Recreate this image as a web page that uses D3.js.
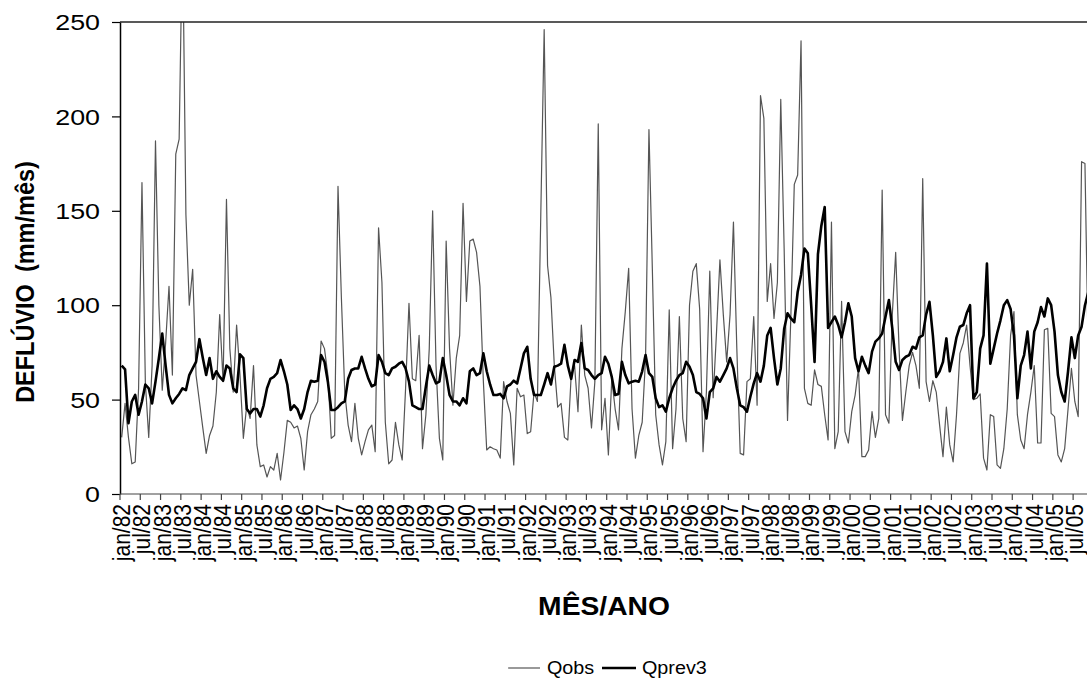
<!DOCTYPE html>
<html>
<head>
<meta charset="utf-8">
<script src="https://cdn.jsdelivr.net/npm/d3@7/dist/d3.min.js"></script>
<style>
  html, body { margin: 0; padding: 0; background: #fff; }
  svg { display: block; }
  text { font-family: "Liberation Sans", Arial, sans-serif; fill: #000; }
</style>
</head>
<body>
<svg id="chart" width="1087" height="681"></svg>
<script>
// Monthly runoff, jan/1982 onwards (mm/mês)
const startYear = 1982;
const monthNames = ["jan","fev","mar","abr","mai","jun","jul","ago","set","out","nov","dez"];

const qobs = [
  30, 48, 30, 16, 17, 56, 165, 59, 30, 68,
  187, 100, 55, 80, 110, 63, 180, 188, 300, 148,
  100, 119, 63, 49, 35, 21.5, 31, 36, 54, 95,
  59.5, 156, 77, 54, 89.5, 63, 29.5, 47, 40, 68,
  26, 14.5, 15.4, 9, 14.5, 12.7, 21.5, 7.4, 22, 39,
  38, 35, 36, 29.5, 12.7, 33, 42, 45, 49, 81,
  77, 63, 29.5, 31, 163, 104, 54, 36.5, 27.7, 48,
  29.5, 20.7, 27.7, 34, 36.5, 22.4, 141, 112, 38, 16,
  18, 38, 26, 18, 56, 101, 61, 60, 84, 24,
  42, 77, 150, 68, 29.5, 18, 134, 77, 47, 72,
  84, 154, 102, 134, 135, 128, 110, 60, 23.3, 25,
  24, 23.3, 19, 59.5, 49, 42.7, 15.4, 56, 51.5, 52.4,
  32, 33, 54, 49, 148, 246, 121, 104, 68, 46,
  48, 30, 28.6, 63, 68, 43.6, 89.5, 63, 56, 35,
  59.5, 196, 34, 50.7, 20.7, 61, 45, 34, 77, 96.6,
  119.5, 45, 19, 31, 38, 72, 193, 119.5, 42, 26,
  15.4, 27.7, 97.5, 24, 45, 94, 40, 27.7, 100, 118,
  122, 98, 22.4, 54, 118, 51, 86, 124, 95, 70,
  95, 144, 77, 21.5, 20.7, 59.5, 61, 94, 47, 211,
  199, 102, 122, 93, 112, 209, 130, 39, 95, 164,
  169, 240, 56, 48, 47, 65.7, 58, 57, 42, 28.6,
  144, 24, 33, 102, 33, 27, 43.6, 52.4, 66.5, 19.8,
  19.8, 23.3, 43.6, 30, 40, 161, 42, 37.5, 95, 128,
  77, 39, 54, 68, 75, 68, 56, 167, 59.5, 49,
  60, 54, 36.5, 19.8, 46, 26, 17, 42, 74.5, 80,
  89.5, 68, 50, 50.7, 53, 19, 12.7, 42, 41, 15.4,
  13.6, 24, 45, 84, 96.6, 42, 28.6, 24, 42, 54,
  68, 27, 27, 87, 87.7, 42.7, 41, 20.7, 17, 24,
  45, 66.5, 49, 41, 176, 175, 70, 60
];

const qprev3 = [
  68, 66, 37.5, 49, 52.5, 42, 49, 58, 56, 48,
  59.5, 72, 85, 68, 52.5, 48, 50.7, 53, 56, 55,
  63, 66.5, 70, 82, 72, 63, 72, 61, 65, 62,
  60, 68, 66.5, 56, 54, 74, 72, 45, 42.7, 45,
  45, 41, 47, 56, 61, 62, 64, 71, 65, 58,
  44.5, 47, 45, 40, 45, 54, 60, 59.5, 60, 73.6,
  70, 59.5, 44.5, 44.5, 46, 48, 49, 61, 65.7, 66.5,
  66.5, 72.7, 66.5, 61, 57, 58, 73.6, 70, 64, 63,
  66.5, 67.4, 69, 70, 66.5, 59.5, 47, 46, 45, 45,
  57, 68, 63, 58.6, 59.5, 72, 63, 52.5, 49, 49,
  47, 50.7, 48, 65, 66.5, 63, 64, 74.5, 65, 58,
  52.4, 52.4, 53, 50.7, 57, 58, 60, 58.6, 66.5, 74.5,
  78, 61, 52.4, 52.4, 52.4, 58, 64, 58, 67.4, 68,
  69, 79, 68, 61, 71, 70, 80, 66.5, 65.7, 63,
  61, 63, 64, 72.7, 69, 62, 52.4, 53, 70, 63,
  58.6, 59.5, 60, 59.5, 65, 73.6, 64, 62, 50.7, 46,
  47, 43.6, 50.7, 56, 60, 63, 64, 70, 67.4, 63,
  54, 53, 50.7, 40, 54, 56, 62, 59.5, 63, 66.5,
  72, 66.5, 56, 47, 46, 43.6, 51.5, 58.6, 64, 59.5,
  68, 84, 88, 72, 58, 66.5, 87.4, 95.7, 93, 91,
  107, 116, 130, 127.5, 100, 70, 127, 142, 152, 88,
  91, 94, 89.5, 83, 91, 101, 94, 72, 65, 72.7,
  68, 64, 75.4, 80.7, 82.4, 85, 94, 102.7, 87.7, 70,
  65.7, 71, 72.7, 73.6, 78, 77, 83, 84, 95, 101.8,
  84, 62, 65, 70, 82.4, 65, 73.6, 83, 88.6, 89.5,
  95.7, 100, 50.7, 54, 77, 84, 122, 69, 77, 85,
  92, 100, 102.7, 98, 84, 50.7, 68, 73.6, 86, 66.5,
  86, 91, 99, 94, 103.6, 100, 86, 63, 54, 49,
  65, 83, 72, 84, 88.6, 100, 107, 108
];

// One category per month: "jan/82", "fev/82", ...
const categories = qobs.map((_, i) =>
  monthNames[i % 12] + "/" + String((startYear + Math.floor(i / 12)) % 100).padStart(2, "0"));
// Axis is labelled every six months (jan and jul)
const tickLabels = categories.filter((_, i) => i % 6 === 0);
const yTicks = [0, 50, 100, 150, 200, 250];

const seriesNames = ["Qobs", "Qprev3"];

// ---- layout ----
const W = 1087, H = 681;
const plot = { left: 120, top: 22, bottom: 494, right: 1093.4 };
const SX = 1.13; // horizontal glyph stretch of the typeface

const svg = d3.select("#chart");

const x = d3.scaleBand()
  .domain(categories)
  .range([plot.left, plot.right])
  .paddingInner(0).paddingOuter(0);
const xc = c => x(c) + x.bandwidth() / 2;

const y = d3.scaleLinear().domain([0, 250]).range([plot.bottom, plot.top]);

svg.append("defs").append("clipPath").attr("id", "plotClip")
  .append("rect")
  .attr("x", plot.left).attr("y", plot.top)
  .attr("width", plot.right - plot.left).attr("height", plot.bottom - plot.top);

// ---- series ----
const line = d3.line()
  .x((d, i) => xc(categories[i]))
  .y(d => y(d));

const gLines = svg.append("g").attr("clip-path", "url(#plotClip)");
gLines.append("path")
  .datum(qobs)
  .attr("d", line)
  .attr("fill", "none")
  .attr("stroke", "#555")
  .attr("stroke-width", 1.2)
  .attr("stroke-linejoin", "round");
gLines.append("path")
  .datum(qprev3)
  .attr("d", line)
  .attr("fill", "none")
  .attr("stroke", "#000")
  .attr("stroke-width", 2.6)
  .attr("stroke-linejoin", "round");

// ---- frame ----
svg.append("line")
  .attr("x1", plot.left).attr("x2", W)
  .attr("y1", plot.top).attr("y2", plot.top)
  .attr("stroke", "#222").attr("stroke-width", 1.5);

// ---- y axis ----
const yAxis = svg.append("g")
  .attr("transform", `translate(${plot.left},0)`)
  .call(d3.axisLeft(y).tickValues(yTicks).tickSize(8).tickSizeOuter(0).tickFormat(d3.format("d")));
yAxis.select(".domain").attr("stroke", "#000").attr("stroke-width", 1.5);
yAxis.selectAll(".tick line").attr("stroke", "#000").attr("stroke-width", 1.2);
yAxis.selectAll(".tick text")
  .attr("x", null).attr("dy", null)
  .attr("font-size", 22)
  .attr("text-anchor", "end")
  .attr("dominant-baseline", "central")
  .attr("transform", `translate(-20,0) scale(1.22,1)`);

// ---- x axis ----
svg.append("line")
  .attr("x1", plot.left).attr("x2", W)
  .attr("y1", plot.bottom).attr("y2", plot.bottom)
  .attr("stroke", "#444").attr("stroke-width", 1.2);

const gx = svg.append("g");
gx.selectAll("line.tick")
  .data(tickLabels)
  .join("line")
  .attr("class", "tick")
  .attr("x1", d => x(d)).attr("x2", d => x(d))
  .attr("y1", plot.bottom).attr("y2", plot.bottom + 6)
  .attr("stroke", "#444").attr("stroke-width", 1.2);
gx.selectAll("text")
  .data(tickLabels)
  .join("text")
  .attr("transform", d => `translate(${xc(d)},${plot.bottom + 10}) scale(${SX},1) rotate(-90)`)
  .attr("text-anchor", "end")
  .attr("dy", "0.35em")
  .attr("font-size", 21)
  .text(d => d);

// ---- axis titles ----
svg.append("text")
  .attr("transform", `translate(604,615) scale(${SX},1)`)
  .attr("text-anchor", "middle")
  .attr("font-size", 25)
  .attr("font-weight", "bold")
  .text("MÊS/ANO");

const yt = svg.append("text")
  .attr("transform", `translate(34,282) scale(${SX},1) rotate(-90)`)
  .attr("text-anchor", "middle")
  .attr("font-size", 23.5)
  .attr("font-weight", "bold");
yt.append("tspan").text("DEFLÚVIO");
yt.append("tspan").attr("dx", 12).text("(mm/mês)");

// ---- legend ----
const legend = svg.append("g");
const legendItems = [
  { name: seriesNames[0], x0: 508, x1: 540, tx: 547, stroke: "#555", sw: 1.2 },
  { name: seriesNames[1], x0: 602, x1: 636, tx: 642, stroke: "#000", sw: 2.6 }
];
legendItems.forEach(it => {
  legend.append("line")
    .attr("x1", it.x0).attr("x2", it.x1)
    .attr("y1", 668).attr("y2", 668)
    .attr("stroke", it.stroke).attr("stroke-width", it.sw);
  legend.append("text")
    .attr("transform", `translate(${it.tx},674) scale(${SX},1)`)
    .attr("font-size", 17.5)
    .text(it.name);
});
</script>
</body>
</html>
